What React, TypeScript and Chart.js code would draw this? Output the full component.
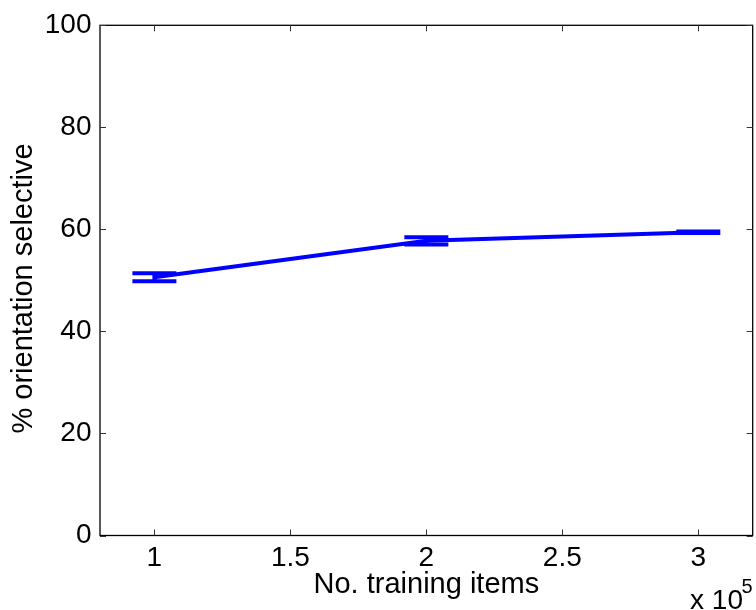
import React, { useEffect, useRef } from "react";
import { Chart, registerables } from "chart.js";

Chart.register(...registerables);

// Data (x in training items, y in % orientation selective)
const trainingItems = [100000, 200000, 300000];
const pctSelective = [50.6, 57.75, 59.45];
const pctError = [0.78, 0.73, 0.15];

const xTickValues = [100000, 150000, 200000, 250000, 300000];
const yTickValues = [0, 20, 40, 60, 80, 100];

const FONT = "'Liberation Sans', Arial, Helvetica, sans-serif";
const BLUE = "#0000ff";

const matlabAxesPlugin = {
  id: "matlabAxes",
  afterDatasetsDraw(chart: any) {
    const { ctx, scales } = chart;
    const xs = scales.x;
    const ys = scales.y;
    // error bars
    ctx.save();
    ctx.strokeStyle = BLUE;
    ctx.lineWidth = 4;
    ctx.lineCap = "butt";
    const capHalf = 22;
    trainingItems.forEach((xv, i) => {
      const px = xs.getPixelForValue(xv);
      const yTop = ys.getPixelForValue(pctSelective[i] + pctError[i]);
      const yBot = ys.getPixelForValue(pctSelective[i] - pctError[i]);
      ctx.beginPath();
      ctx.moveTo(px, yTop);
      ctx.lineTo(px, yBot);
      ctx.moveTo(px - capHalf, yTop);
      ctx.lineTo(px + capHalf, yTop);
      ctx.moveTo(px - capHalf, yBot);
      ctx.lineTo(px + capHalf, yBot);
      ctx.stroke();
    });
    ctx.restore();
  },
  afterDraw(chart: any) {
    const { ctx, chartArea, scales } = chart;
    const { left, right, top, bottom } = chartArea;
    const xs = scales.x;
    const ys = scales.y;
    ctx.save();
    // box
    ctx.strokeStyle = "#000";
    ctx.lineWidth = 1.3;
    ctx.strokeRect(left, top, right - left, bottom - top);
    // inward ticks
    const tl = 6;
    ctx.lineWidth = 1;
    ctx.strokeStyle = "#333";
    ctx.beginPath();
    xTickValues.forEach((v) => {
      const p = Math.round(xs.getPixelForValue(v)) + 0.5;
      ctx.moveTo(p, bottom);
      ctx.lineTo(p, bottom - tl);
      ctx.moveTo(p, top);
      ctx.lineTo(p, top + tl);
    });
    yTickValues.forEach((v) => {
      const p = Math.round(ys.getPixelForValue(v)) + 0.5;
      ctx.moveTo(left, p);
      ctx.lineTo(left + tl, p);
      ctx.moveTo(right, p);
      ctx.lineTo(right - tl, p);
    });
    ctx.stroke();
    // exponent label
    ctx.fillStyle = "#000";
    ctx.textBaseline = "alphabetic";
    ctx.textAlign = "right";
    ctx.font = `28px ${FONT}`;
    ctx.fillText("x 10", 743, 608.5);
    ctx.textAlign = "left";
    ctx.font = `20px ${FONT}`;
    ctx.fillText("5", 741.5, 592.5);
    ctx.restore();
  },
};

export default function App() {
  const canvasRef = useRef<HTMLCanvasElement | null>(null);

  useEffect(() => {
    document.body.style.margin = "0";
    const canvas = canvasRef.current;
    if (!canvas) return;
    const chart = new Chart(canvas, {
      type: "line",
      data: {
        datasets: [
          {
            label: "% orientation selective",
            data: trainingItems.map((x, i) => ({ x, y: pctSelective[i] })),
            borderColor: BLUE,
            backgroundColor: BLUE,
            borderWidth: 4,
            pointRadius: 0,
            tension: 0,
            fill: false,
          },
        ],
      },
      options: {
        responsive: false,
        animation: false,
        layout: { padding: { top: 24.5, right: 3.3, left: 0, bottom: 0 } },
        plugins: {
          legend: { display: false },
          tooltip: { enabled: false },
        },
        scales: {
          x: {
            type: "linear",
            min: 80000,
            max: 320000,
            grid: { display: false, drawTicks: false, tickLength: 0 },
            border: { display: false },
            afterBuildTicks: (scale: any) => {
              scale.ticks = xTickValues.map((value) => ({ value }));
            },
            afterFit: (scale: any) => {
              scale.height = 610 - 535.5;
            },
            ticks: {
              color: "#000",
              padding: 6,
              maxRotation: 0,
              autoSkip: false,
              font: { family: FONT, size: 28 },
              callback: (v: any) => String(Number(v) / 100000),
            },
            title: {
              display: true,
              text: "No. training items",
              color: "#000",
              font: { family: FONT, size: 29 },
              padding: { top: 0, bottom: 8 },
            },
          },
          y: {
            type: "linear",
            min: 0,
            max: 100,
            grid: { display: false, drawTicks: false, tickLength: 0 },
            border: { display: false },
            afterBuildTicks: (scale: any) => {
              scale.ticks = yTickValues.map((value) => ({ value }));
            },
            afterFit: (scale: any) => {
              scale.width = 100;
            },
            ticks: {
              color: "#000",
              padding: 8.5,
              font: { family: FONT, size: 28 },
            },
            title: {
              display: true,
              text: "% orientation selective  ",
              color: "#000",
              font: { family: FONT, size: 29 },
              padding: { top: 6.5, bottom: 0 },
            },
          },
        },
      },
      plugins: [matlabAxesPlugin],
    });
    return () => chart.destroy();
  }, []);

  return (
    <canvas
      ref={canvasRef}
      width={756}
      height={610}
      style={{ display: "block", width: "756px", height: "610px" }}
    />
  );
}
